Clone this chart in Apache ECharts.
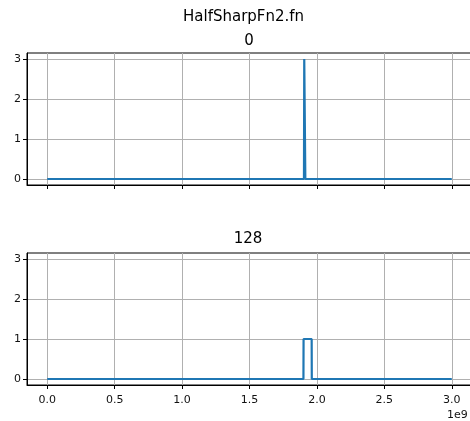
<!DOCTYPE html>
<html style="height: 100%">
<head>
    <meta charset="utf-8">
</head>
<body style="height: 100%; margin: 0; overflow: hidden">
<div id="container" style="width: 473px; height: 421px"></div>
<script type="text/javascript" src="https://cdn.jsdelivr.net/npm/echarts@6/dist/echarts.min.js"></script>
<script type="text/javascript">
    var chartTitle = 'HalfSharpFn2.fn';
    var panelNames = ['0', '128'];

    // panel "0": narrow spike
    var xTop = [0, 1.904e9, 1.906e9, 1.914e9, 3.0e9];
    var yTop = [0, 0, 3, 0, 0];

    // panel "128": short box
    var xBottom = [0, 1.900e9, 1.901e9, 1.961e9, 1.962e9, 3.0e9];
    var yBottom = [0, 0, 1, 1, 0, 0];

    var xTicks = [0, 0.5e9, 1.0e9, 1.5e9, 2.0e9, 2.5e9, 3.0e9];
    var yTicks = [0, 1, 2, 3];

    function pairs(xs, ys) {
        var out = [];
        for (var i = 0; i < xs.length; i++) out.push([xs[i], ys[i]]);
        return out;
    }

    var font = 'DejaVu Sans';
    var titleStyle = {fontFamily: font, fontSize: 15, fontWeight: 'normal', color: '#000'};

    function makeX(idx, showLabels) {
        return {
            type: 'value', gridIndex: idx,
            min: -0.15e9, max: 3.15e9,
            axisLine: {show: true, onZero: false, lineStyle: {color: '#000', width: 1}},
            axisTick: {show: true, inside: false, length: 4, customValues: xTicks, lineStyle: {color: '#000'}},
            axisLabel: {
                show: showLabels, customValues: xTicks, margin: 10,
                color: '#111', fontFamily: font, fontSize: 11,
                formatter: function (v) { return (v / 1e9).toFixed(1); }
            },
            splitLine: {show: true, customValues: xTicks, lineStyle: {color: '#b0b0b0', width: 1}}
        };
    }

    function makeY(idx) {
        return {
            type: 'value', gridIndex: idx,
            min: -0.15, max: 3.15,
            axisLine: {show: true, onZero: false, lineStyle: {color: '#000', width: 1}},
            axisTick: {show: true, inside: false, length: 4, customValues: yTicks, lineStyle: {color: '#000'}},
            axisLabel: {show: true, customValues: yTicks, margin: 6, color: '#111', fontFamily: font, fontSize: 11},
            splitLine: {show: true, customValues: yTicks, lineStyle: {color: '#b0b0b0', width: 1}}
        };
    }

    var dom = document.getElementById("container");
    var myChart = echarts.init(dom);
    var option = {
        animation: false,
        backgroundColor: '#fff',
        title: [
            {text: chartTitle, left: 183, top: 10, padding: 0, textStyle: titleStyle},
            {text: panelNames[0], left: 249, top: 34, padding: 0, textAlign: 'center', textStyle: titleStyle},
            {text: panelNames[1], left: 248, top: 232, padding: 0, textAlign: 'center', textStyle: titleStyle}
        ],
        grid: [
            {left: 27, right: 1, top: 53, height: 132, show: true, borderColor: '#000', borderWidth: 1, backgroundColor: 'transparent'},
            {left: 27, right: 1, top: 253, height: 132, show: true, borderColor: '#000', borderWidth: 1, backgroundColor: 'transparent'}
        ],
        xAxis: [makeX(0, false), makeX(1, true)],
        yAxis: [makeY(0), makeY(1)],
        graphic: [
            {type: 'text', left: 447, top: 410, style: {text: '1e9', fontFamily: font, fontSize: 11, fill: '#111'}}
        ],
        series: [
            {type: 'line', xAxisIndex: 0, yAxisIndex: 0, data: pairs(xTop, yTop), showSymbol: false,
                lineStyle: {color: '#1f77b4', width: 2.2}, itemStyle: {color: '#1f77b4'}},
            {type: 'line', xAxisIndex: 1, yAxisIndex: 1, data: pairs(xBottom, yBottom), showSymbol: false,
                lineStyle: {color: '#1f77b4', width: 2.2}, itemStyle: {color: '#1f77b4'}}
        ]
    };
    myChart.setOption(option);
</script>
</body>
</html>
